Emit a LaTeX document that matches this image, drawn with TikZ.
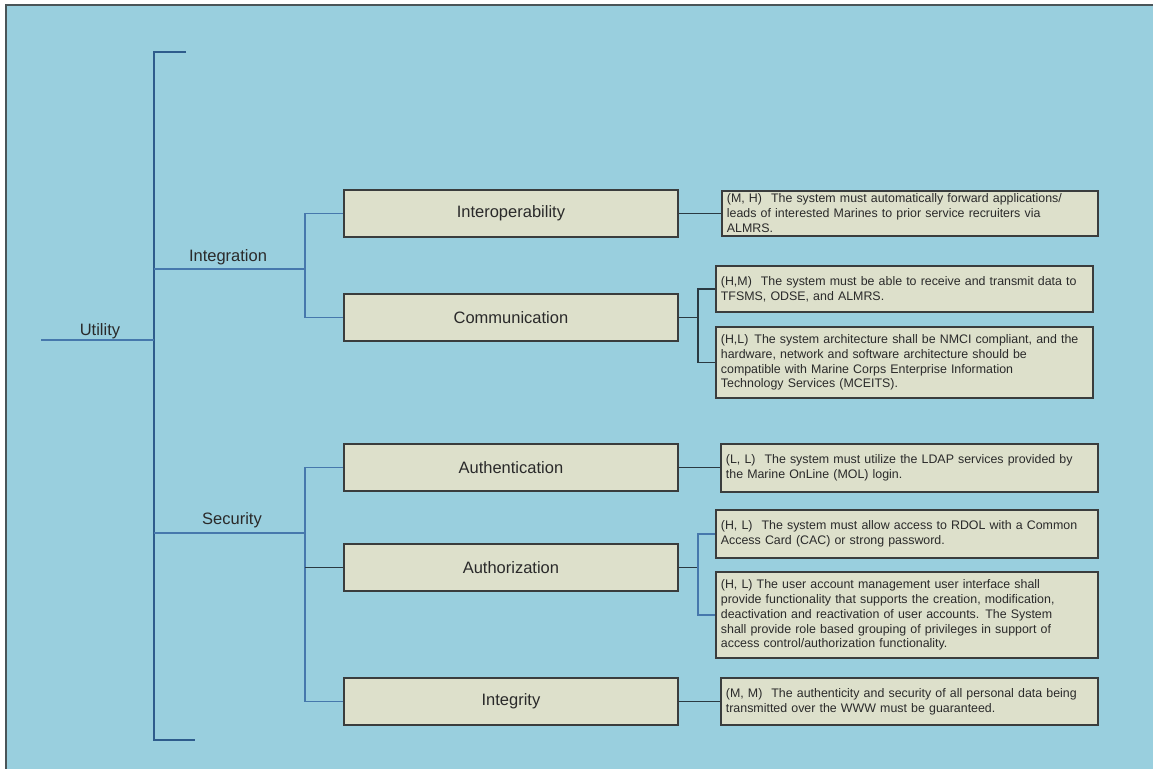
\documentclass[tikz,border=0pt]{standalone}
\usepackage{fontspec}
\setmainfont{Liberation Sans}
\usepackage{xcolor}
\usetikzlibrary{positioning,calc}
\definecolor{bgblue}{HTML}{99CFDE}
\definecolor{boxfill}{HTML}{DDE0CB}
\definecolor{boxedge}{HTML}{3A3D3D}
\definecolor{trunkblue}{HTML}{2E5C8C}
\definecolor{lineblue}{HTML}{4678AC}
\definecolor{linkdark}{HTML}{2A3A42}
\definecolor{frame}{HTML}{4A5558}
\definecolor{inkgrey}{HTML}{2A2A2A}

\begin{document}
\begin{tikzpicture}[
    x=1pt, y=-1pt,
    trunk/.style={draw=trunkblue, line width=2pt},
    branch/.style={draw=lineblue, line width=1.5pt},
    link/.style={draw=linkdark, line width=1.5pt},
    branchname/.style={font=\fontsize{16.5}{19}\selectfont, text=inkgrey, inner sep=0pt},
    topic/.style={rectangle, draw=boxedge, fill=boxfill, line width=1.8pt, anchor=north west,
        minimum width=334pt, minimum height=47pt, text=inkgrey, font=\fontsize{16.5}{19}\selectfont},
    req/.style={rectangle, draw=boxedge, fill=boxfill, line width=1.8pt, anchor=north west,
        inner xsep=5pt, inner ysep=2pt, align=left, text=inkgrey, font=\fontsize{12.4}{14.9}\selectfont}
]
    \useasboundingbox (0,0) rectangle (1153,768);
    \fill[white] (0,0) rectangle (1153,768);
    \draw[fill=bgblue, draw=frame, line width=1.5pt] (6,5) rectangle (1160,775);

    % trunk and root
    \coordinate (topTick) at (186,52);
    \coordinate (trunkTop) at (154,52);
    \coordinate (trunkBot) at (154,740);
    \coordinate (botTick) at (195,740);
    \coordinate (utilStart) at (41,340);
    \coordinate (utilJoin) at (154,340);
    \draw[trunk] (topTick) -- (trunkTop) -- (trunkBot) -- (botTick);
    \draw[branch] (utilStart) -- (utilJoin);
    \node[branchname] (utility) at (100,331) {Utility};

    % integration
    \coordinate (intJoin) at (154,269);
    \coordinate (intFork) at (305,269);
    \draw[branch] (intJoin) -- (intFork);
    \node[branchname] (integration) at (228,257) {Integration};
    \node[topic] (interop) at (343,189) {Interoperability};
    \node[topic] (comm) at (343,293) {Communication};
    \draw[branch] (interop.west) -| (intFork) |- (comm.west);

    \node[req, text width=366pt, minimum height=45pt] (reqInterop) at (721,190)
        {(M, H)\hspace{9pt}The system must automatically forward applications/\\
         leads of interested Marines to prior service recruiters via\\
         ALMRS.};
    \draw[link] (interop.east) -- (interop.east -| reqInterop.west);

    \node[req, text width=367pt, minimum height=46pt] (reqCommA) at (715,265)
        {(H,M)\hspace{9pt}The system must be able to receive and transmit data to\\
         TFSMS, ODSE, and ALMRS.};
    \node[req, text width=367pt, minimum height=71pt] (reqCommB) at (715,326)
        {(H,L)\hspace{6pt}The system architecture shall be NMCI compliant, and the\\
         hardware, network and software architecture should be\\
         compatible with Marine Corps Enterprise Information\\
         Technology Services (MCEITS).};
    \path (comm.east) ++(19,0) coordinate (commFork);
    \draw[link] (comm.east) -- (commFork);
    \draw[link] (reqCommA.west) -| (commFork) |- (reqCommB.west);

    % security
    \coordinate (secJoin) at (154,533);
    \coordinate (secFork) at (305,533);
    \draw[branch] (secJoin) -- (secFork);
    \node[branchname] (security) at (232,520) {Security};
    \node[topic] (authen) at (343,443) {Authentication};
    \node[topic] (author) at (343,543) {Authorization};
    \node[topic] (integ) at (343,677) {Integrity};
    \draw[branch] (authen.west) -| (secFork) |- (integ.west);
    \draw[link] (author.west) -- (author.west -| secFork);

    \node[req, text width=367pt, minimum height=48pt] (reqAuthen) at (720,443)
        {(L, L)\hspace{9pt}The system must utilize the LDAP services provided by\\
         the Marine OnLine (MOL) login.};
    \draw[link] (authen.east) -- (authen.east -| reqAuthen.west);

    \node[req, text width=372pt, minimum height=48pt] (reqAuthorA) at (715,509)
        {(H, L)\hspace{9pt}The system must allow access to RDOL with a Common\\
         Access Card (CAC) or strong password.};
    \node[req, text width=372pt, minimum height=86pt] (reqAuthorB) at (715,571)
        {(H, L) The user account management user interface shall\\
         provide functionality that supports the creation, modification,\\
         deactivation and reactivation of user accounts.\hspace{6pt}The System\\
         shall provide role based grouping of privileges in support of\\
         access control/authorization functionality.};
    \path (author.east) ++(19,0) coordinate (authorFork);
    \draw[link] (author.east) -- (authorFork);
    \draw[branch] (reqAuthorA.west) -| (authorFork) |- (reqAuthorB.west);

    \node[req, text width=367pt, minimum height=47pt] (reqInteg) at (720,677)
        {(M, M)\hspace{9pt}The authenticity and security of all personal data being\\
         transmitted over the WWW must be guaranteed.};
    \draw[link] (integ.east) -- (integ.east -| reqInteg.west);
\end{tikzpicture}
\end{document}
